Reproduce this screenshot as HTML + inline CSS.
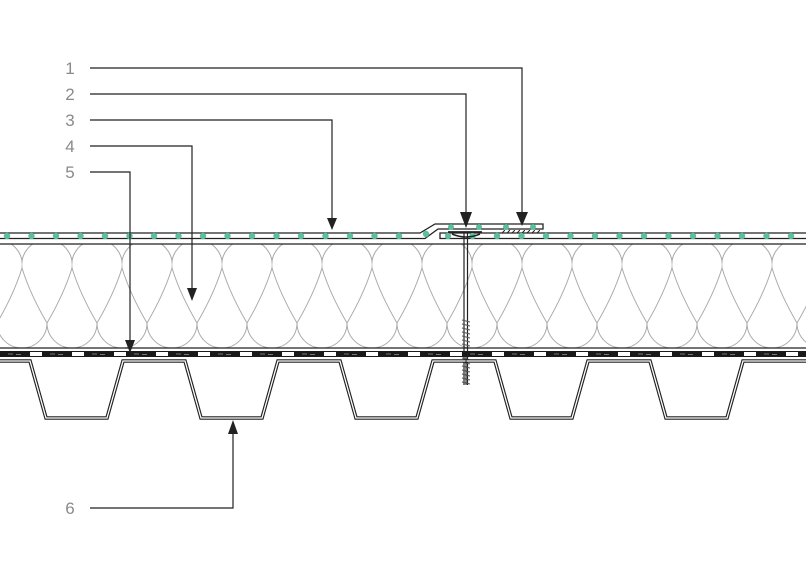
<!DOCTYPE html>
<html><head><meta charset="utf-8"><style>
html,body{margin:0;padding:0;background:#fff;}
svg{display:block;}
text{font-family:"Liberation Sans",sans-serif;font-size:17px;fill:#8a8a8a;}
</style></head><body>
<svg width="806" height="571" viewBox="0 0 806 571" xmlns="http://www.w3.org/2000/svg">
<defs>
<pattern id="ins" x="22" y="244" width="50" height="104" patternUnits="userSpaceOnUse">
<g fill="none" stroke="#aaa" stroke-width="1">
<path d="M0,24 A25.2,25.2 0 1 1 50,24"/>
<path d="M0,24 Q8,50 25,79 M50,24 Q42,50 25,79 M0,24 Q-8,50 -25,79 M50,24 Q58,50 75,79"/>
<path d="M-25,79 A25,25 0 1 0 25,79"/>
<path d="M25,79 A25,25 0 1 0 75,79"/>
</g>
</pattern>
<pattern id="band" x="0" y="351" width="42" height="6" patternUnits="userSpaceOnUse">
<rect x="0" y="0" width="42" height="6" fill="#1a1a1a"/>
<rect x="30" y="1" width="12" height="4" fill="#fff"/>
<rect x="8" y="2.5" width="5" height="1" fill="#777"/>
<rect x="16" y="3" width="5" height="1" fill="#777"/>
</pattern>
<pattern id="dots" x="7" y="230" width="24.5" height="12" patternUnits="userSpaceOnUse">
<circle cx="0" cy="6" r="3.2" fill="#5bbf9e"/>
<circle cx="24.5" cy="6" r="3.2" fill="#5bbf9e"/>
</pattern>
<pattern id="hatch" width="5" height="5" patternUnits="userSpaceOnUse">
<path d="M0,5 L5,0" stroke="#222" stroke-width="1"/>
</pattern>
</defs>

<rect x="0" y="244" width="806" height="104" fill="url(#ins)"/>
<line x1="0" y1="244" x2="806" y2="244" stroke="#222" stroke-width="1.2"/>
<line x1="0" y1="348" x2="806" y2="348" stroke="#222" stroke-width="1.2"/>
<rect x="0" y="351" width="806" height="6" fill="url(#band)"/>

<g stroke="#222" stroke-width="1.3" fill="none">
<path d="M0,233 L420,233 L435,224 L543,224 L543,229 L438,229 L425,238.5 L0,238.5"/>
<path d="M806,233 L440,233 L440,238.5 L806,238.5"/>
</g>
<rect x="0" y="230" width="420" height="12" fill="url(#dots)"/>
<rect x="445" y="230" width="361" height="12" fill="url(#dots)"/>
<circle cx="426" cy="234" r="3.2" fill="#5bbf9e"/>
<circle cx="451" cy="227" r="3" fill="#5bbf9e"/>
<circle cx="479" cy="227" r="3" fill="#5bbf9e"/>
<circle cx="506" cy="227" r="3" fill="#5bbf9e"/>
<circle cx="533" cy="227" r="3" fill="#5bbf9e"/>
<rect x="500" y="230" width="40" height="3" fill="url(#hatch)"/>

<g stroke="#222" fill="none">
<line x1="464" y1="232" x2="464" y2="385" stroke-width="1.2"/>
<line x1="467.5" y1="232" x2="467.5" y2="385" stroke-width="1.2"/>
<path d="M448,232 L482,232" stroke-width="1.8"/>
<path d="M452,234 Q466,240 480,234" stroke-width="1.5"/>
</g>
<g stroke="#555" stroke-width="1">
<path d="M462,320 L470,322 M462,324 L470,326 M462,328 L470,330 M462,332 L470,334 M462,336 L470,338 M462,340 L470,342 M462,344 L470,346 M462,358 L470,360 M462,362 L470,364 M462,366 L470,368 M462,370 L470,372 M462,374 L470,376 M462,378 L470,380 M462,382 L470,384"/>
</g>

<polyline points="0,361 30,361 46,418 107,418 123,361 185,361 201,418 262,418 278,361 340,361 356,418 417,418 433,361 495,361 511,418 572,418 588,361 650,361 666,418 727,418 743,361 806,361" fill="none" stroke="#222" stroke-width="3.6"/>
<polyline points="0,361 30,361 46,418 107,418 123,361 185,361 201,418 262,418 278,361 340,361 356,418 417,418 433,361 495,361 511,418 572,418 588,361 650,361 666,418 727,418 743,361 806,361" fill="none" stroke="#fff" stroke-width="1.3"/>
<line x1="466" y1="357" x2="466" y2="385" stroke="#222" stroke-width="1"/>

<g stroke="#222" stroke-width="1.2" fill="none">
<path d="M90,68 H522 V214"/>
<path d="M90,94 H466 V214"/>
<path d="M90,120 H332 V220"/>
<path d="M90,146 H192 V290"/>
<path d="M90,172 H130 V342"/>
<path d="M90,508 H233 V430"/>
</g>
<g fill="#222">
<path d="M516,212 L528,212 L522,226 Z"/>
<path d="M460,212 L472,212 L466,228 Z"/>
<path d="M327,218 L337,218 L332,230 Z"/>
<path d="M187,288 L197,288 L192,301 Z"/>
<path d="M125,340 L135,340 L130,353 Z"/>
<path d="M228,434 L238,434 L233,420 Z"/>
</g>

<text x="70" y="74" text-anchor="middle">1</text>
<text x="70" y="100" text-anchor="middle">2</text>
<text x="70" y="126" text-anchor="middle">3</text>
<text x="70" y="152" text-anchor="middle">4</text>
<text x="70" y="178" text-anchor="middle">5</text>
<text x="70" y="514" text-anchor="middle">6</text>
</svg>
</body></html>
